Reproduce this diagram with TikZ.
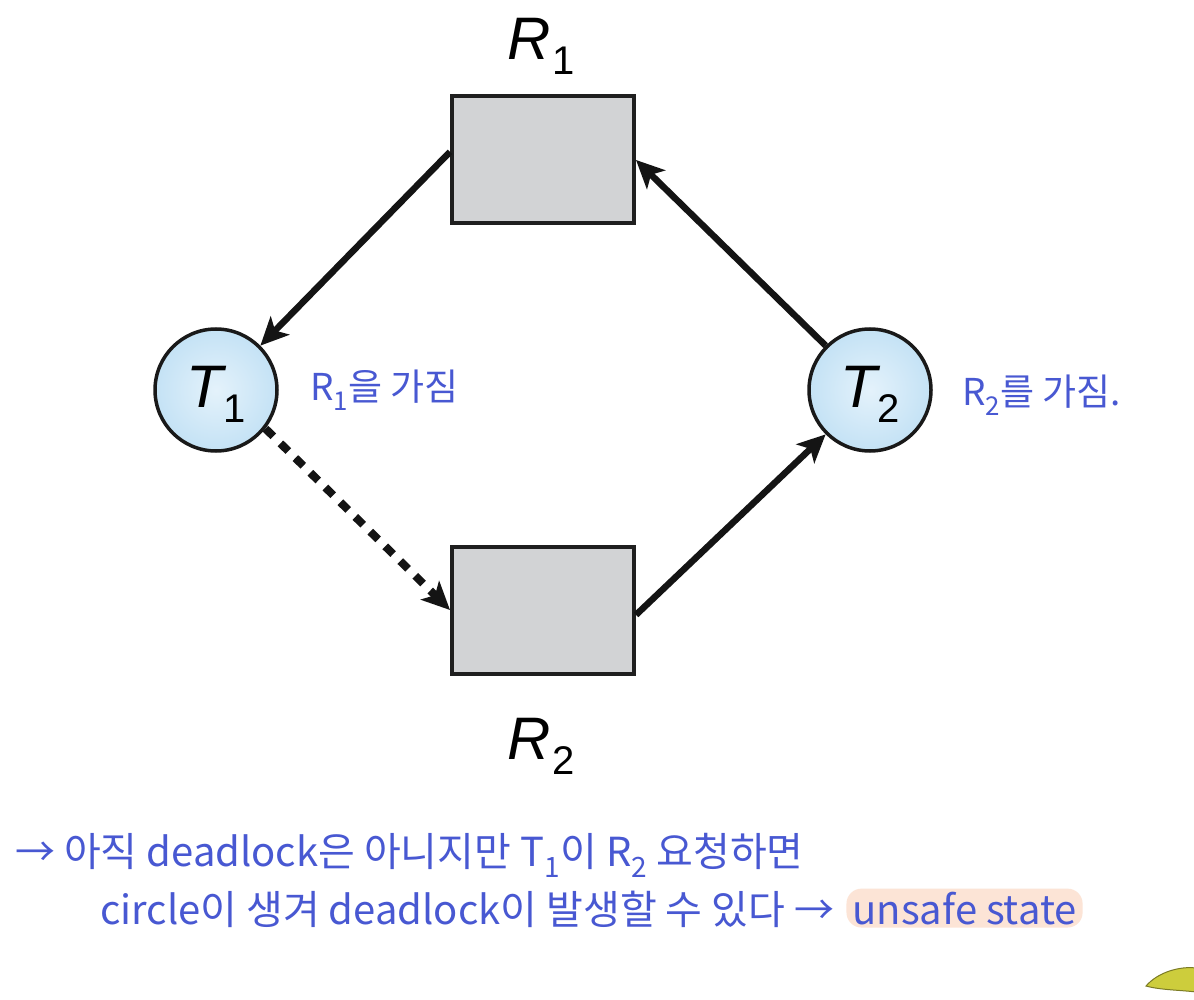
\documentclass[tikz,border=0pt]{standalone}
\usepackage{fontspec}
\setsansfont{Liberation Sans}
\newfontfamily\kr{Noto Sans CJK KR}
\usetikzlibrary{arrows.meta}
\definecolor{resgray}{RGB}{210,211,213}
\definecolor{bluein}{RGB}{228,242,251}
\definecolor{blueout}{RGB}{196,226,245}
\definecolor{hand}{RGB}{72,88,210}
\definecolor{hilite}{RGB}{252,228,214}
\definecolor{blob}{RGB}{205,205,60}
\newcommand{\lblTR}[3]{\sffamily\fontsize{60}{60}\selectfont\textit{#1}\kern#3\raisebox{-15pt}{\fontsize{40}{40}\selectfont #2}}
\begin{document}
\begin{tikzpicture}[x=1pt,y=-1pt,
  res/.style={draw=black!88, line width=4pt, fill=resgray, minimum width=182pt, minimum height=127pt, inner sep=0pt},
  proc/.style={circle, draw=black!90, line width=3.5pt, minimum size=122pt, inner sep=0pt, inner color=bluein, outer color=blueout},
  lbl/.style={inner sep=0pt},
  edgearrow/.style={line width=6.5pt, draw=black!92, -{Stealth[length=28pt,width=26pt,inset=7pt]}},
  reqarrow/.style={line width=8pt, draw=black!92, dash pattern=on 11pt off 10pt, -{Stealth[length=28pt,width=26pt,inset=7pt]}},
  note/.style={text=hand, font=\kr\fontsize{40}{40}\selectfont, inner sep=0pt}
]
\useasboundingbox (0,0) rectangle (1194,1000);
\fill[white] (0,0) rectangle (1194,1000);

\node[res] (R1) at (543,160) {};
\node[res] (R2) at (543,610) {};
\node[proc] (T1) at (216,390) {};
\node[proc] (T2) at (870,390) {};

\node[lbl] (T1l) at (216,394) {\lblTR{T}{1}{-3pt}};
\node[lbl] (T2l) at (870,394) {\lblTR{T}{2}{-3pt}};
\node[lbl] (R1l) at (541,46) {\lblTR{R}{1}{1pt}};
\node[lbl] (R2l) at (541,746) {\lblTR{R}{2}{1pt}};

\draw[edgearrow] (R1.175) -- (T1.45);
\draw[edgearrow] (T2.135) -- (R1.east);
\draw[edgearrow] (R2.-3) -- (T2.225);
\draw[reqarrow] (T1.-38) -- (R2.west);

\node[note, anchor=west, font=\kr\fontsize{37}{37}\selectfont] (n1) at (310,390) {R\textsubscript{1}을 가짐};
\node[note, anchor=west, font=\kr\fontsize{37}{37}\selectfont] (n2) at (962,395) {R\textsubscript{2}를 가짐.};

\node[note, anchor=base west] (l1) at (15,866) {→ 아직 deadlock은 아니지만 T\textsubscript{1}이 R\textsubscript{2} 요청하면};
\node[note, anchor=base west] (l2) at (100,924) {circle이 생겨 deadlock이 발생할 수 있다 →};
\node[note, anchor=base west, fill=hilite, rounded corners=15pt, inner xsep=6pt, inner ysep=3pt] (us) at ([xshift=12pt]l2.base east) {unsafe state};

\fill[blob, draw=black!40!blob, line width=1pt] (1146,986) .. controls (1158,972) and (1180,966) .. (1196,968) -- (1196,992) .. controls (1180,990) and (1160,990) .. (1146,986) -- cycle;
\end{tikzpicture}
\end{document}
